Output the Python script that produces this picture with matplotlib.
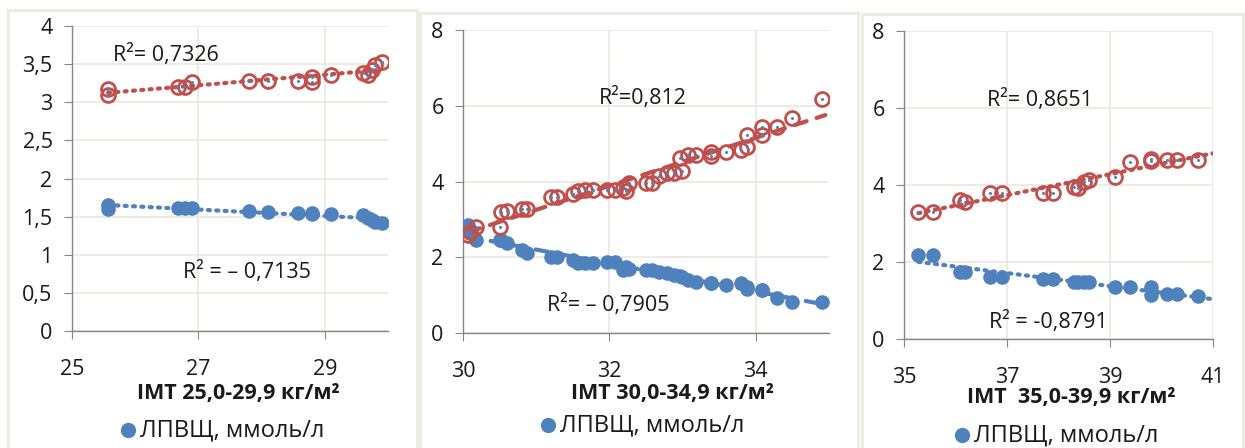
import numpy as np
import matplotlib
matplotlib.use('Agg')
import matplotlib.pyplot as plt
from matplotlib.patches import Rectangle
from matplotlib.lines import Line2D

plt.rcParams['font.family'] = ['Open Sans', 'DejaVu Sans']

RED = '#C0504D'
BLUE = '#4F81BD'
GRID = '#EAE8DE'
FRAME = '#EEECE1'
SPINE = '#868686'
TXT = '#1a1a1a'

# ---- BMI 25.0-29.9
x1 = [25.57, 25.57, 26.67, 26.79, 26.9, 27.8, 28.1, 28.57, 28.8, 28.8, 29.1, 29.6, 29.68, 29.74, 29.79, 29.9]
red1 = [3.17, 3.10, 3.20, 3.20, 3.27, 3.28, 3.28, 3.28, 3.33, 3.26, 3.36, 3.38, 3.36, 3.42, 3.49, 3.53]
blue1 = [1.65, 1.60, 1.61, 1.61, 1.61, 1.57, 1.56, 1.55, 1.55, 1.54, 1.53, 1.52, 1.48, 1.45, 1.43, 1.41]

# ---- BMI 30.0-34.9
x2 = [30.07, 30.1, 30.18, 30.5, 30.52, 30.6, 30.8, 30.88, 31.2, 31.28, 31.5, 31.57, 31.67, 31.77,
      31.97, 32.07, 32.18, 32.23, 32.27, 32.5, 32.58, 32.68, 32.79, 32.88, 32.99, 32.96, 33.07, 33.18,
      33.39, 33.39, 33.59, 33.8, 33.88, 33.88, 34.08, 34.08, 34.29, 34.49, 34.9]
red2 = [2.58, 2.66, 2.8, 2.8, 3.19, 3.22, 3.27, 3.27, 3.6, 3.6, 3.66, 3.74, 3.77, 3.77,
        3.77, 3.77, 3.82, 3.74, 3.95, 3.95, 3.95, 4.14, 4.22, 4.22, 4.27, 4.62, 4.7, 4.7,
        4.78, 4.67, 4.78, 4.83, 4.91, 5.22, 5.22, 5.44, 5.44, 5.67, 6.17]
blue2 = [2.85, 2.7, 2.45, 2.45, 2.45, 2.37, 2.19, 2.11, 2.0, 2.0, 1.93, 1.85, 1.85, 1.85,
         1.87, 1.87, 1.66, 1.74, 1.7, 1.66, 1.66, 1.61, 1.58, 1.53, 1.48, 1.5, 1.4, 1.35,
         1.32, 1.32, 1.27, 1.32, 1.21, 1.15, 1.13, 1.13, 0.92, 0.82, 0.82]

# ---- BMI 35.0-39.9
x3 = [35.28, 35.57, 36.08, 36.18, 36.67, 36.9, 37.7, 37.89, 38.3, 38.38, 38.5, 38.6, 39.1, 39.39,
      39.8, 39.8, 40.1, 40.3, 40.71]
red3 = [3.3, 3.3, 3.6, 3.56, 3.79, 3.79, 3.79, 3.79, 3.95, 3.92, 4.08, 4.13, 4.21, 4.6,
        4.62, 4.67, 4.65, 4.65, 4.65]
blue3 = [2.18, 2.18, 1.74, 1.74, 1.61, 1.61, 1.56, 1.56, 1.48, 1.48, 1.48, 1.48, 1.35, 1.35,
         1.35, 1.15, 1.17, 1.17, 1.12]

panels = [
    dict(x=x1, red=red1, blue=blue1, xlim=(25, 30), xticks=[25, 27, 29],
         ylim=(0, 4), yticks=[0, 0.5, 1, 1.5, 2, 2.5, 3, 3.5, 4],
         ylabels=['0', '0,5', '1', '1,5', '2', '2,5', '3', '3,5', '4'],
         box=(72, 26, 388, 331), frame=(8, 10, 417),
         ls=(0, (0.5, 1.5)), trend_end=None,
         xlabel='ІМТ 25,0-29,9 кг/м²', xlabel_xy=(238, 393), legend_xy=(128, 430),
         r_pos=('R²= 0,7326', 25.65, 3.62), r_neg=('R² = – 0,7135', 26.75, 0.77)),
    dict(x=x2, red=red2, blue=blue2, xlim=(30, 35), xticks=[30, 32, 34],
         ylim=(0, 8), yticks=[0, 2, 4, 6, 8], ylabels=['0', '2', '4', '6', '8'],
         box=(463, 30, 829, 333), frame=(420, 13, 858),
         ls=(0, (3, 2.5)), trend_end=34.95,
         xlabel='ІМТ 30,0-34,9 кг/м²', xlabel_xy=(672, 393), legend_xy=(548, 425),
         r_pos=('R²=0,812', 31.85, 6.2), r_neg=('R²= – 0,7905', 31.15, 0.75)),
    dict(x=x3, red=red3, blue=blue3, xlim=(35, 41), xticks=[35, 37, 39, 41],
         ylim=(0, 8), yticks=[0, 2, 4, 6, 8], ylabels=['0', '2', '4', '6', '8'],
         box=(904, 31, 1213, 339), frame=(862, 14, 1243),
         ls=(0, (0.5, 1.5)), trend_end=41,
         xlabel='ІМТ  35,0-39,9 кг/м²', xlabel_xy=(1071, 398), legend_xy=(962, 435),
         r_pos=('R²= 0,8651', 36.62, 6.2), r_neg=('R² = -0,8791', 36.65, 0.45)),
]

W, H = 1245, 448
fig = plt.figure(figsize=(W / 100, H / 100), dpi=100)
fig.patch.set_facecolor('white')


def fx(px):
    return px / W


def fy(py):
    return 1 - py / H


for p in panels:
    # outer chart frame
    fl, ft, fr = p['frame']
    fig.patches.append(Rectangle((fx(fl), fy(H + 20)), fx(fr - fl), (H + 20 - ft) / H,
                                 transform=fig.transFigure, fill=False,
                                 edgecolor=FRAME, linewidth=2.2, zorder=0))

    l, t, r, b = p['box']
    ax = fig.add_axes([fx(l), fy(b), fx(r - l), (b - t) / H])
    ax.set_xlim(*p['xlim'])
    ax.set_ylim(*p['ylim'])
    ax.set_xticks(p['xticks'])
    ax.set_xticklabels([str(v) for v in p['xticks']])
    ax.set_yticks(p['yticks'])
    ax.set_yticklabels(p['ylabels'])
    ax.grid(True, color=GRID, linewidth=1.2)
    ax.set_axisbelow(True)
    for s in ['top', 'right']:
        ax.spines[s].set_visible(False)
    for s in ['left', 'bottom']:
        ax.spines[s].set_color(SPINE)
        ax.spines[s].set_linewidth(1.0)
    ax.tick_params(axis='y', length=6, color=SPINE, pad=8, labelsize=15.5, labelcolor=TXT)
    ax.tick_params(axis='x', length=6, color=SPINE, pad=14, labelsize=15.5, labelcolor=TXT)

    x = np.array(p['x'])
    red = np.array(p['red'])
    blue = np.array(p['blue'])
    x_end = p['trend_end'] if p['trend_end'] else x.max()
    xs = np.array([x.min(), x_end])

    # linear trend lines
    kr = np.polyfit(x, red, 1)
    kb = np.polyfit(x, blue, 1)
    ax.plot(xs, np.polyval(kb, xs), color=BLUE, linewidth=3, linestyle=p['ls'],
            dash_capstyle='round', zorder=2)
    ax.plot(xs, np.polyval(kr, xs), color=RED, linewidth=3, linestyle=p['ls'],
            dash_capstyle='round', zorder=2)

    ax.plot(x, blue, 'o', color=BLUE, markersize=10.5, markeredgewidth=0, zorder=3)
    ax.plot(x, red, 'o', markerfacecolor='none', markeredgecolor=RED,
            markersize=10, markeredgewidth=2, zorder=4)
    ax.plot(x, red, 'o', color=BLUE, markersize=2.2, markeredgewidth=0, zorder=5)

    txt, tx, ty = p['r_pos']
    ax.text(tx, ty, txt, fontsize=15.5, color=TXT, va='center', ha='left')
    txt, tx, ty = p['r_neg']
    ax.text(tx, ty, txt, fontsize=15.5, color=TXT, va='center', ha='left')

    lx, ly = p['xlabel_xy']
    fig.text(fx(lx), fy(ly), p['xlabel'], fontsize=15.5, fontweight='bold', color=TXT,
             ha='center', va='center')

    mx, my = p['legend_xy']
    fig.lines.append(Line2D([fx(mx)], [fy(my)], marker='o', color=BLUE, markersize=11,
                            markeredgewidth=0, transform=fig.transFigure))
    fig.text(fx(mx + 12), fy(my), 'ЛПВЩ, ммоль/л', fontsize=17, color=TXT,
             ha='left', va='center')

fig.savefig('out.png', dpi=100)
